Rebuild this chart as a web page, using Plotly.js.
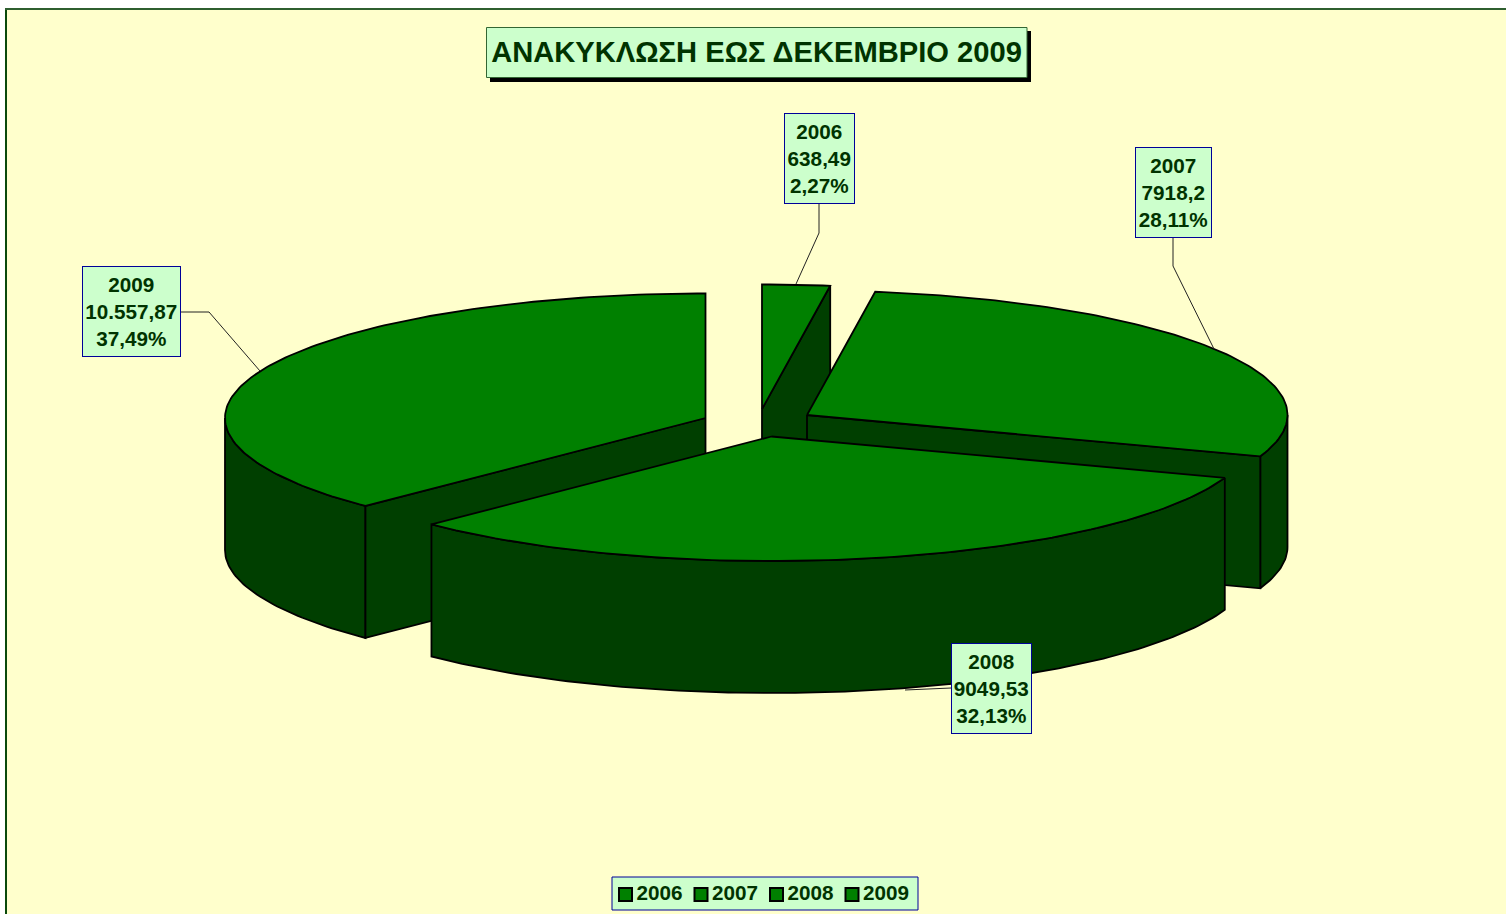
<!DOCTYPE html>
<html><head><meta charset="utf-8">
<script src="https://cdn.plot.ly/plotly-3.0.1.min.js"></script>
<style>html,body{margin:0;padding:0;background:#fff;overflow:hidden}#chart{width:1506px;height:914px}</style>
</head><body><div id="chart"></div>
<script>
// Data
const years = ['2006','2007','2008','2009'];
const values = [638.49, 7918.2, 9049.53, 10557.87];
const valueLabels = ['638,49','7918,2','9049,53','10.557,87'];
const percentLabels = ['2,27%','28,11%','32,13%','37,49%'];
const titleText = 'ΑΝΑΚΥΚΛΩΣΗ ΕΩΣ ΔΕΚΕΜΒΡΙΟ 2009';

// Projection of the tilted, exploded pie (pixel-scaled axes)
const RX = 480.5, RY = 124.5, DEPTH = 132;
const centers = [[762,409],[807,415],[771.5,436.5],[705.5,418]];
const drawOrder = [3,0,1,2];
const TOP = '#008000', SIDE = '#003f00', INK = '#003300', BOX = '#ccffcc', BLUE = '#000099';

const total = values.reduce((a,b)=>a+b,0);
const edges = [0];
values.forEach(v => edges.push(edges[edges.length-1] + v/total*360));
const rad = d => d*Math.PI/180;
const rim = (c,a,dz=0) => [c[0]+RX*Math.sin(rad(a)), c[1]-RY*Math.cos(rad(a))+dz];
function arc(c,a0,a1,dz=0){
  const n = Math.max(2, Math.ceil(Math.abs(a1-a0)));
  const pts = [];
  for(let i=0;i<=n;i++) pts.push(rim(c, a0+(a1-a0)*i/n, dz));
  return pts;
}
function poly(pts,color){
  const p = pts.concat([pts[0]]);
  return {type:'scatter',mode:'lines',x:p.map(q=>q[0]),y:p.map(q=>q[1]),fill:'toself',fillcolor:color,
    line:{color:'#000',width:1.8},showlegend:false,hoverinfo:'skip'};
}
const traces = [];
drawOrder.forEach(i=>{
  const c = centers[i], a0 = edges[i], a1 = edges[i+1];
  const lo = Math.max(a0,90), hi = Math.min(a1,270);
  if(hi>lo) traces.push(poly(arc(c,lo,hi).concat(arc(c,hi,lo,DEPTH)),SIDE));
  const face = a => [[c[0],c[1]],rim(c,a),rim(c,a,DEPTH),[c[0],c[1]+DEPTH]];
  if(Math.sin(rad(a0))<-1e-6) traces.push(poly(face(a0),SIDE));
  if(Math.sin(rad(a1))>1e-6) traces.push(poly(face(a1),SIDE));
  traces.push(poly([[c[0],c[1]]].concat(arc(c,a0,a1)),TOP));
});

// Legend row
const legendX = [625.5,701,776.5,852];
const legendY = legendX.map(()=>894.5);
traces.push({type:'scatter',mode:'markers',x:legendX,y:legendY,
  marker:{symbol:'square',size:13,color:TOP,line:{color:'#000',width:2}},showlegend:false,hoverinfo:'skip'});
traces.push({type:'scatter',mode:'text',x:legendX.map(x=>x+11),y:legendY,text:years,
  textposition:'middle right',textfont:{family:'Liberation Sans',size:20.7,color:INK,weight:700},
  showlegend:false,hoverinfo:'skip'});

const labelBoxes = [[784,854.5,113,203.5],[1135,1211.5,147,237.5],[951,1031.5,643.5,734],[82,180.5,266,356.5]];
const annotations = years.map((y,i)=>{
  const b = labelBoxes[i];
  return {xref:'x',yref:'y',x:(b[0]+b[1])/2,y:(b[2]+b[3])/2,xanchor:'center',yanchor:'middle',showarrow:false,
    text:'<b>'+y+'<br>'+valueLabels[i]+'<br>'+percentLabels[i]+'</b>',align:'center',
    width:b[1]-b[0]-2,height:b[3]-b[2]-2,borderpad:0,borderwidth:1,bordercolor:BLUE,bgcolor:BOX,
    font:{family:'Liberation Sans',size:20.7,color:INK}};
});
const leader = d => ({type:'path',path:d,xref:'x',yref:'y',line:{color:'#222',width:1},layer:'above'});
const rect = (x0,y0,x1,y1,fill,line,w) => ({type:'rect',xref:'x',yref:'y',x0,y0,x1,y1,fillcolor:fill,line:{color:line,width:w},layer:'above'});
const shapes = [
  leader('M819,204 L819,233 L796,284'),
  leader('M1173,238 L1173,266 L1214,349'),
  leader('M951,688 L905,690'),
  leader('M180,312 L209,312 L260,371'),
  rect(490,31,1031,82,'#000','#000',0),
  rect(486.5,27.5,1027,77.5,BOX,'#336633',1),
];

const layout = {
  width:1506,height:914,margin:{l:7,t:10,r:0,b:0,pad:0},
  paper_bgcolor:'#fff',plot_bgcolor:'#ffffcc',
  showlegend:false,hovermode:false,
  title:{text:'<b>'+titleText+'</b>',xref:'container',yref:'container',x:756.5/1506,xanchor:'center',
    y:1-52/914,yanchor:'middle',font:{family:'Liberation Sans',size:29.15,color:INK}},
  xaxis:{range:[7,1506],visible:true,side:'top',showline:true,linecolor:'#2f5f2f',linewidth:2,showgrid:false,zeroline:false,showticklabels:false,ticks:''},
  yaxis:{range:[914,10],visible:true,showline:true,linecolor:'#0b4a0b',linewidth:2,showgrid:false,zeroline:false,showticklabels:false,ticks:''},
  annotations,shapes:[]
};
const legendFrame = rect(612,877,918,910,BOX,BLUE,1); legendFrame.layer='below';
layout.shapes = shapes.concat([legendFrame]);
Plotly.newPlot('chart',traces,layout,{displayModeBar:false,staticPlot:true});
</script></body></html>
